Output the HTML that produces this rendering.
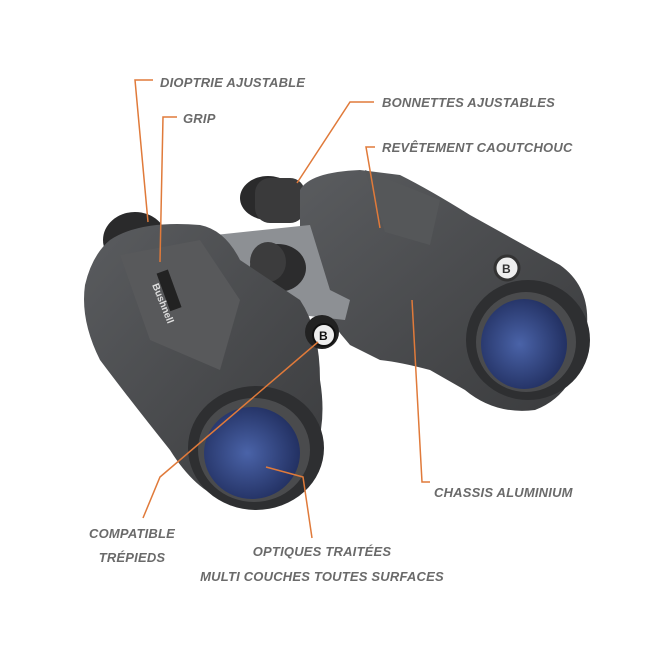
<!DOCTYPE html>
<html><head><meta charset="utf-8"><style>
html,body{margin:0;padding:0;background:#fff;}
svg{display:block}
.t{font-family:"Liberation Sans",sans-serif;font-weight:bold;font-style:italic;font-size:13px;fill:#6a6a6a;letter-spacing:0.2px}
.l{stroke:#e07a3a;stroke-width:1.5;fill:none}
</style></head><body>
<svg width="670" height="670" viewBox="0 0 670 670" xmlns="http://www.w3.org/2000/svg">
<defs>
<radialGradient id="blue" cx="0.45" cy="0.5" r="0.6"><stop offset="0" stop-color="#4a63a8"/><stop offset="1" stop-color="#1f2c5c"/></radialGradient>
<linearGradient id="body" x1="0" y1="0" x2="1" y2="1"><stop offset="0" stop-color="#5a5c5f"/><stop offset="1" stop-color="#3a3b3d"/></linearGradient>
</defs>
<!-- right eyepiece -->
<ellipse cx="268" cy="198" rx="28" ry="22" fill="#2a2a2b"/>
<rect x="255" y="178" width="50" height="45" rx="15" fill="#3a3a3b"/>
<!-- right body -->
<path d="M300 190 Q310 172 360 170 L400 175 Q430 190 470 215 L560 265 Q595 290 585 340 Q575 395 535 410 Q495 415 465 390 L430 370 Q400 362 380 360 L350 345 Q310 300 300 250 Z" fill="url(#body)"/>
<path d="M365 170 L440 200 L430 245 L385 232 Z" fill="#555759"/>
<!-- right lens -->
<ellipse cx="528" cy="340" rx="62" ry="60" fill="#2e2f31"/>
<ellipse cx="526" cy="342" rx="50" ry="50" fill="#4a4b4d"/>
<ellipse cx="524" cy="344" rx="43" ry="45" fill="url(#blue)"/>
<circle cx="507" cy="268" r="12" fill="#eee" stroke="#333" stroke-width="3"/>
<text x="502" y="273" font-family="Liberation Sans" font-weight="bold" font-size="12" fill="#333">B</text>
<!-- bridge -->
<path d="M215 235 L310 225 L330 290 L350 300 L345 320 L300 315 L240 270 Z" fill="#8d9094"/>
<ellipse cx="278" cy="268" rx="28" ry="24" fill="#2c2c2d"/>
<ellipse cx="268" cy="262" rx="18" ry="20" fill="#3c3c3d"/>
<!-- left eyepiece -->
<ellipse cx="135" cy="240" rx="32" ry="28" fill="#2a2a2b"/>
<!-- left body -->
<path d="M110 240 Q140 220 200 225 Q225 230 240 260 L300 300 Q320 330 320 380 Q330 440 300 480 Q270 505 225 500 Q195 490 170 450 Q130 400 100 360 Q80 320 85 285 Q92 255 110 240 Z" fill="url(#body)"/>
<path d="M120 255 L200 240 L240 300 L220 370 L150 340 Z" fill="#58595b"/>
<rect x="150" y="285" width="40" height="12" transform="rotate(70 170 290)" fill="#222"/>
<text x="0" y="0" transform="translate(152 285) rotate(68)" font-family="Liberation Sans" font-weight="bold" font-size="10" fill="#ddd">Bushnell</text>
<!-- left lens -->
<ellipse cx="256" cy="448" rx="68" ry="62" fill="#2e2f31"/>
<ellipse cx="254" cy="450" rx="56" ry="52" fill="#4a4b4d"/>
<ellipse cx="252" cy="453" rx="48" ry="46" fill="url(#blue)"/>
<!-- B knob -->
<circle cx="322" cy="332" r="17" fill="#222"/>
<circle cx="324" cy="335" r="11" fill="#eee" stroke="#111" stroke-width="2"/>
<text x="319" y="340" font-family="Liberation Sans" font-weight="bold" font-size="12" fill="#111">B</text>
<!-- leader lines -->
<polyline class="l" points="153,80 135,80 148,222"/>
<polyline class="l" points="177,117 163,117 160,262"/>
<polyline class="l" points="374,102 350,102 297,183"/>
<polyline class="l" points="375,147 366,147 380,228"/>
<polyline class="l" points="430,482 422,482 412,300"/>
<polyline class="l" points="143,518 160,477 318,342"/>
<polyline class="l" points="312,538 303,477 266,467"/>
<!-- labels -->
<text class="t" x="160" y="87">DIOPTRIE AJUSTABLE</text>
<text class="t" x="183" y="123">GRIP</text>
<text class="t" x="382" y="107">BONNETTES AJUSTABLES</text>
<text class="t" x="382" y="152">REVÊTEMENT CAOUTCHOUC</text>
<text class="t" x="434" y="497">CHASSIS ALUMINIUM</text>
<text class="t" x="132" y="538" text-anchor="middle">COMPATIBLE</text>
<text class="t" x="132" y="562" text-anchor="middle">TRÉPIEDS</text>
<text class="t" x="322" y="556" text-anchor="middle">OPTIQUES TRAITÉES</text>
<text class="t" x="322" y="581" text-anchor="middle">MULTI COUCHES TOUTES SURFACES</text>
</svg>
</body></html>
